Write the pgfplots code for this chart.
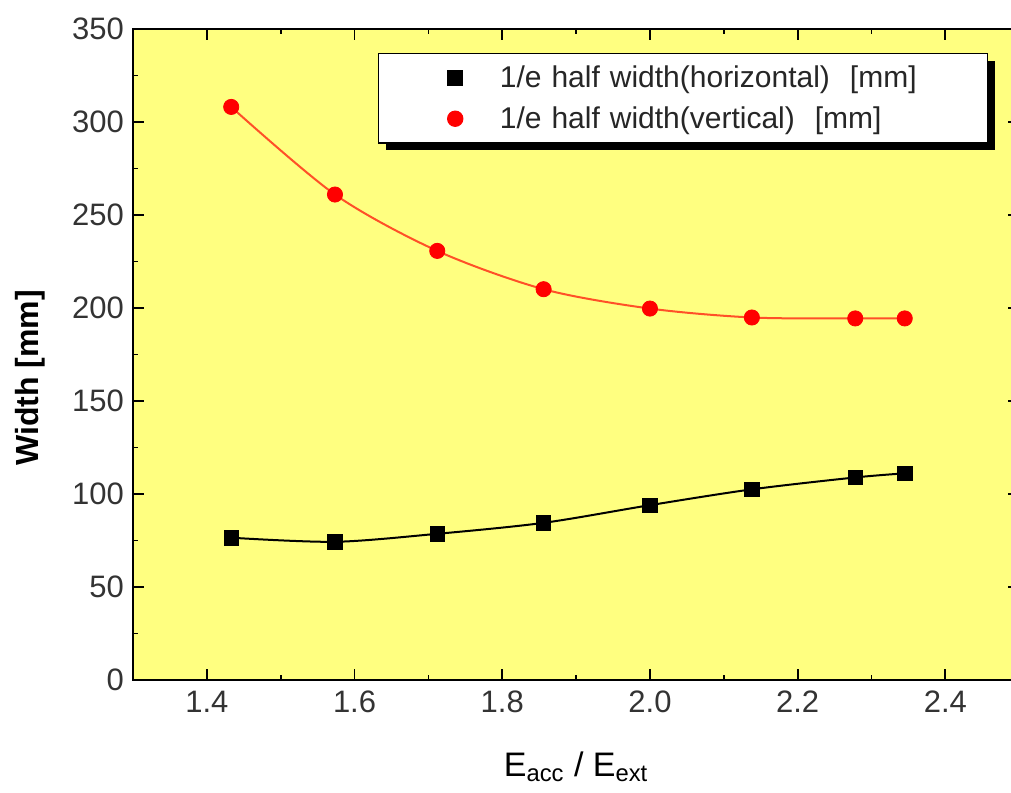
\documentclass[border=0pt]{standalone}
\usepackage{pgfplots}
\pgfplotsset{compat=1.18}
\usepackage{fontspec}
\setmainfont{Liberation Sans}
\usetikzlibrary{shadows}
\definecolor{bgyellow}{RGB}{255,255,128}
\definecolor{lred}{RGB}{255,80,40}

\pgfplotstableread{
x      h      v
1.433  76.5   308.1
1.5735 74.3   261.0
1.712  78.6   230.7
1.856  84.5   210.1
2.0    94.0   199.7
2.138  102.5  194.9
2.278  108.9  194.4
2.345  111.1  194.4
}\datatable

\begin{document}
\begin{tikzpicture}
\begin{axis}[
  scale only axis,
  width=443.1pt, height=325.5pt,
  xmin=1.3, xmax=2.5, ymin=0, ymax=350,
  xtick={1.4,1.6,1.8,2.0,2.2,2.4},
  ytick={0,50,100,150,200,250,300,350},
  minor x tick num=1, minor y tick num=1,
  tick align=inside,
  major tick length=5.5pt, minor tick length=2.5pt,
  every tick/.style={black, line width=0.9pt},
  axis line style={line width=1pt},
  axis background/.style={fill=bgyellow},
  /pgf/number format/assume math mode=true,
  xticklabel={\pgfmathprintnumber[fixed,fixed zerofill,precision=1]{\tick}},
  ticklabel style={font=\fontsize{15.5}{18}\selectfont, text=black!80},
  xticklabel style={yshift=-2pt},
  yticklabel style={xshift=-1pt},
  every axis y label/.style={at={(axis description cs:-0.116,0.464)}, rotate=90, anchor=center},
  ylabel={\bfseries Width [mm]},
  ylabel style={font=\fontsize{16}{18}\selectfont},
  every axis x label/.style={at={(axis description cs:0.5,-0.1485)}, anchor=base},
  xlabel={E\textsubscript{acc} / E\textsubscript{ext}},
  xlabel style={font=\fontsize{17}{19}\selectfont},
  legend style={
    at={(axis description cs:0.2765,0.9631)}, anchor=north west,
    fill=white, draw=black, line width=0.6pt,
    drop shadow={fill=black, opacity=1, shadow xshift=3.5pt, shadow yshift=-3.5pt},
    font=\fontsize{15}{18}\selectfont,
    inner xsep=0pt, inner ysep=4pt,
    row sep=4pt,
    nodes={text width=244pt, align=left, inner xsep=0pt, text=black!85},
  },
  legend image code/.code={
    \path (-38pt,0pt) (22pt,0pt);
    \draw[#1] plot coordinates {(0pt,0pt)};
  },
  legend cell align=left,
]
\addplot[black, line width=1pt, smooth, forget plot] table[x=x,y=h]{\datatable};
\addplot[lred, line width=1pt, smooth, forget plot] table[x=x,y=v]{\datatable};
\addplot[only marks, mark=square*, mark size=3.6pt, mark options={fill=black, draw=black}] table[x=x,y=h]{\datatable};
\addlegendentry{1/e half width(horizontal)\ \ [mm]}
\addplot[only marks, mark=*, mark size=3.8pt, mark options={fill=red, draw=red}] table[x=x,y=v]{\datatable};
\addlegendentry{1/e half width(vertical)\ \ [mm]}
\end{axis}
\pgfresetboundingbox
\useasboundingbox (-66.5pt,-56pt) rectangle (439pt,340pt);
\end{tikzpicture}
\end{document}
